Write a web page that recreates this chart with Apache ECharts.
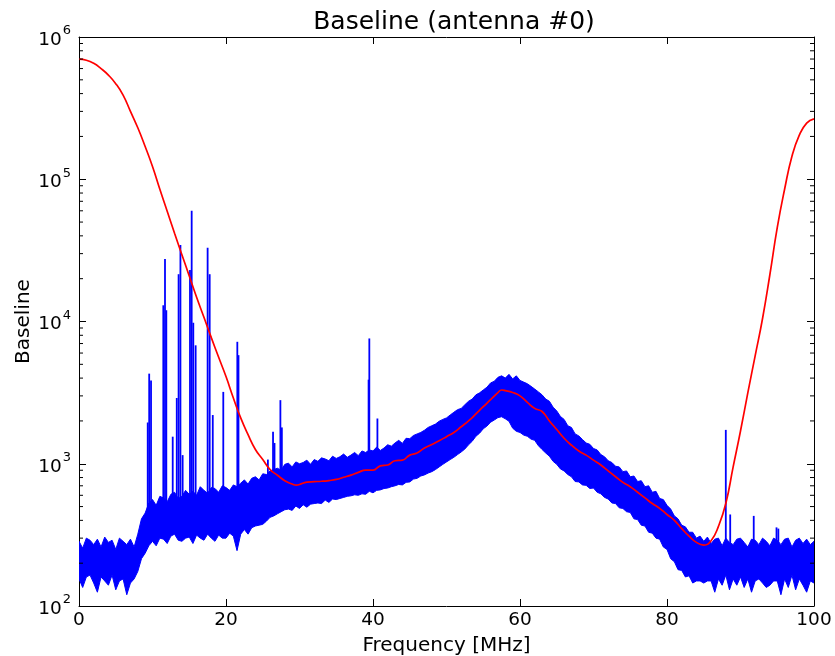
<!DOCTYPE html>
<html>
<head>
<meta charset="utf-8">
<script src="https://cdn.jsdelivr.net/npm/echarts@6/dist/echarts.min.js"></script>
<style>
html,body{margin:0;padding:0;background:#fff;}
#chart{width:835px;height:656px;}
</style>
</head>
<body>
<div id="chart"></div>
<script>
// ---- data ----
const chartTitle = 'Baseline (antenna #0)';
const xName = 'Frequency [MHz]';
const yName = 'Baseline';
const xTicks = [0, 20, 40, 60, 80, 100];
const yTicks = [1e2, 1e3, 1e4, 1e5, 1e6];

// spectrum band, sampled every 0.5 MHz from 0 to 100 MHz
const bandStep = 0.5;
const bandUpper = [
  285, 255, 300, 290, 270, 295, 260, 305, 280, 290, 250, 300, 285, 270, 295, 260,
  320, 410, 450, 530,
  560, 510, 590, 575, 540, 610, 630, 570, 590, 650,
  610, 640, 600, 690, 650, 620, 680, 670, 630, 700,
  680, 650, 710, 690, 730, 770, 720, 790, 810, 770,
  850, 840, 890, 910, 930, 900, 990, 1010, 950, 1030,
  1000, 1020, 1060, 990, 1070, 1040, 1100, 1080, 1050, 1130,
  1090, 1120, 1170, 1110, 1150, 1200, 1140, 1230, 1200, 1250,
  1230, 1310, 1240, 1290, 1360, 1330, 1400, 1460, 1390, 1510,
  1500, 1580, 1620, 1660, 1720, 1800, 1850, 1900, 1990, 2050,
  2100, 2200, 2300, 2400, 2450, 2600, 2750, 2850, 3050, 3150,
  3300, 3450, 3700, 3800, 4050, 4150, 4000, 4250, 3950, 4150,
  3850, 3750, 3650, 3500, 3350, 3200, 3050, 2850, 2750, 2500,
  2350, 2150, 2050, 1850, 1800, 1620, 1570, 1480, 1400, 1370,
  1280, 1250, 1160, 1120, 1050, 1020, 960, 950, 880, 890,
  810, 820, 750, 760, 690, 700, 630, 640, 570, 560,
  510, 480, 430, 410, 370, 360, 330, 330, 300, 310,
  285, 305, 275, 295, 300, 265, 300, 280, 270, 295,
  300, 280, 260, 295, 290, 270, 300, 285, 265, 300,
  290, 270, 295, 300, 260, 290, 300, 275, 295, 270,
  285
];
const bandLower = [
  155, 135, 160, 165, 145, 125, 160, 150, 140, 165, 130, 150, 155, 120, 145, 155,
  175, 215, 235, 265,
  285, 265, 300, 295, 275, 310, 320, 290, 285, 300,
  305, 275, 315, 300, 290, 320, 300, 285, 315, 300,
  300, 325, 310, 245, 320, 345, 320, 355, 365, 370,
  375, 395, 420, 430, 445, 460, 475, 480, 470, 505,
  485, 515, 495, 520, 525, 530, 525, 555, 535, 565,
  560, 570, 580, 590, 595, 605, 600, 615, 610, 640,
  625, 650, 655, 670, 675, 690, 700, 715, 710, 740,
  745, 780, 790, 820, 835, 860, 880, 910, 950, 990,
  1030, 1070, 1110, 1160, 1210, 1270, 1360, 1440, 1560, 1640,
  1760, 1840, 1960, 2030, 2110, 2140, 2070, 1990, 1780, 1690,
  1660, 1590, 1560, 1490, 1460, 1340, 1260, 1190, 1130, 1040,
  990, 920, 890, 840, 810, 750, 745, 710, 705, 670,
  675, 630, 615, 580, 565, 530, 525, 490, 485, 460,
  455, 410, 405, 370, 365, 330, 325, 300, 295, 260,
  250, 215, 205, 180, 178, 160, 163, 145, 150, 150,
  145, 150, 150, 125, 155, 140, 165, 130, 155, 140,
  160, 135, 155, 125, 150, 155, 145, 135, 140, 150,
  150, 120, 155, 135, 165, 130, 155, 140, 125, 150,
  145
];

// narrow RFI spikes: frequency, foot, peak
const spikeFreq = [9.35, 9.55, 9.8, 11.47, 11.7, 11.88, 12.75, 13.3, 13.55, 13.8, 14.1,
  15.1, 15.33, 15.55, 15.87, 17.5, 17.78, 18.2, 19.63, 21.54, 21.7,
  25.7, 26.4, 26.6, 27.4, 27.6, 39.4, 39.5, 40.6, 88.0, 88.6, 91.8, 94.9, 95.15];
const spikeFoot = [300, 300, 320, 350, 350, 350, 380, 380, 380, 380, 380,
  380, 380, 380, 380, 400, 400, 400, 400, 420, 420,
  500, 520, 520, 550, 550, 800, 800, 800, 200, 200, 200, 200, 200];
const spikePeak = [1950, 4300, 3850, 13000, 27500, 12000, 1550, 2900, 21500, 34500, 1150,
  23000, 60000, 9800, 6800, 33000, 21500, 2200, 3200, 7200, 5800,
  1070, 1680, 1400, 2800, 1800, 3900, 7600, 2080, 1730, 440, 430, 357, 350];

// fitted baseline (red)
const baseFreq = [0, 1, 2, 3, 4, 5, 6, 7, 8, 9, 10, 11, 12, 13, 14, 15, 16, 17, 18, 19, 20,
  21, 22, 23, 24, 25, 26, 27, 28, 29, 29.6, 30, 31, 32, 33, 34, 35, 36, 37, 38, 39, 40,
  41, 42, 43, 44, 45, 46, 47, 48, 49, 50, 51, 52, 53, 54, 55, 56, 57, 57.5, 58, 59, 60,
  61, 62, 63, 64, 65, 66, 67, 68, 69, 70, 71, 72, 73, 74, 75, 76, 77, 78, 79, 80,
  81, 82, 83, 84, 85, 86, 87, 88, 89, 90, 91, 92, 93, 94, 95, 96, 97, 98, 99, 100];
const baseVal = [700000, 687000, 653000, 600000, 540000, 470000, 390000, 300000, 230000, 170000, 123000,
  85000, 59600, 41700, 29500, 20900, 14800, 10700, 7700, 5600, 4100,
  2900, 2100, 1600, 1260, 1070, 910, 830, 760, 720, 708, 715, 742, 748, 753, 762, 776, 803, 832, 870, 903, 903,
  966, 980, 1050, 1060, 1150, 1190, 1290, 1365, 1450, 1550, 1660, 1820, 2000, 2240, 2520, 2820, 3160, 3300, 3270, 3170, 3000,
  2700, 2450, 2330, 2000, 1740, 1510, 1350, 1230, 1150, 1060, 980, 890, 810, 740, 690, 630, 575, 525, 486, 440,
  400, 350, 310, 280, 268, 288, 363, 525, 950, 1700, 3160, 5750, 10500, 21400, 45700, 85000, 145000, 204000, 248000, 266000];

// ---- build ----
const minorTicks = [];
for (let d = 2; d < 6; d++) for (let k = 2; k <= 9; k++) minorTicks.push(k * Math.pow(10, d));

const FONT = 'DejaVu Sans';
const chart = echarts.init(document.getElementById('chart'), null, {renderer: 'canvas'});

const axisCommonX = {
  type: 'value', min: xTicks[0], max: xTicks[xTicks.length - 1], interval: 20,
  axisLine: {show: true, onZero: false, lineStyle: {color: '#000', width: 1}},
  axisTick: {show: true, inside: true, length: 7, lineStyle: {color: '#000', width: 1}},
  splitLine: {show: false}
};
const axisCommonY = {
  type: 'log', logBase: 10, min: yTicks[0], max: yTicks[yTicks.length - 1],
  axisLine: {show: true, onZero: false, lineStyle: {color: '#000', width: 1}},
  axisTick: {show: true, inside: true, length: 7, lineStyle: {color: '#000', width: 1}},
  splitLine: {show: false}
};

const option = {
  animation: false,
  backgroundColor: '#fff',
  textStyle: {fontFamily: FONT},
  title: {
    text: chartTitle, left: 449, top: 5, textAlign: 'center',
    textStyle: {fontFamily: FONT, fontSize: 25, fontWeight: 'normal', color: '#000'}
  },
  grid: {left: 79, right: 21, top: 37, bottom: 50, containLabel: false, outerBoundsMode: 'none'},
  xAxis: [
    Object.assign({}, axisCommonX, {
      position: 'bottom',
      name: xName, nameLocation: 'middle', nameGap: 30, nameMoveOverlap: false,
      nameTextStyle: {fontFamily: FONT, fontSize: 20, color: '#000'},
      axisLabel: {show: true, fontFamily: FONT, fontSize: 18.5, color: '#000', margin: 5}
    }),
    Object.assign({}, axisCommonX, {position: 'top', axisLabel: {show: false}})
  ],
  yAxis: [
    Object.assign({}, axisCommonY, {
      position: 'left',
      name: yName, nameLocation: 'middle', nameGap: 45, nameRotate: 90, nameMoveOverlap: false,
      nameTextStyle: {fontFamily: FONT, fontSize: 20, color: '#000'},
      axisLabel: {
        show: true, margin: 8, color: '#000',
        formatter: function (v) {
          const e = Math.round(Math.log10(v));
          return '{b|10}{s|' + e + '}';
        },
        rich: {
          b: {fontFamily: FONT, fontSize: 18.5, color: '#000', padding: [6, 0, 0, 0]},
          s: {fontFamily: FONT, fontSize: 13, color: '#000', verticalAlign: 'top', padding: [0, 0, 0, 1]}
        }
      }
    }),
    Object.assign({}, axisCommonY, {position: 'right', axisLabel: {show: false}})
  ],
  series: [
    {
      type: 'custom', name: 'band', xAxisIndex: 0, yAxisIndex: 0, z: 2,
      data: [[50, 1000]],
      clip: true,
      renderItem: function (params, api) {
        const pts = [];
        for (let i = 0; i < bandUpper.length; i++) pts.push(api.coord([i * bandStep, bandUpper[i]]));
        for (let i = bandLower.length - 1; i >= 0; i--) pts.push(api.coord([i * bandStep, bandLower[i]]));
        return {type: 'polygon', shape: {points: pts}, style: {fill: '#0000ff', stroke: '#0000ff', lineWidth: 1}};
      }
    },
    {
      type: 'custom', name: 'spikes', xAxisIndex: 0, yAxisIndex: 0, z: 3,
      data: spikeFreq.map((f, i) => [f, spikeFoot[i], spikePeak[i]]),
      clip: true,
      renderItem: function (params, api) {
        const a = api.coord([api.value(0), api.value(1)]);
        const b = api.coord([api.value(0), api.value(2)]);
        return {type: 'line', shape: {x1: a[0], y1: a[1], x2: b[0], y2: b[1]}, style: {stroke: '#0000ff', lineWidth: 1.8}};
      },
      encode: {x: 0, y: [1, 2]}
    },
    {
      type: 'line', name: 'baseline', xAxisIndex: 0, yAxisIndex: 0, z: 5,
      data: baseFreq.map((f, i) => [f, baseVal[i]]),
      showSymbol: false, symbol: 'none', smooth: 0.5,
      lineStyle: {color: '#ff0000', width: 1.7}
    },
    {
      type: 'custom', name: 'minorTicks', xAxisIndex: 0, yAxisIndex: 0, z: 6, silent: true,
      data: minorTicks.map(v => [0, v]),
      clip: false,
      renderItem: function (params, api) {
        const l = api.coord([0, api.value(1)]);
        const r = api.coord([100, api.value(1)]);
        return {type: 'group', children: [
          {type: 'line', shape: {x1: l[0], y1: l[1], x2: l[0] + 4, y2: l[1]}, style: {stroke: '#000', lineWidth: 1}},
          {type: 'line', shape: {x1: r[0] - 4, y1: r[1], x2: r[0], y2: r[1]}, style: {stroke: '#000', lineWidth: 1}}
        ]};
      }
    }
  ]
};
chart.setOption(option);
</script>
</body>
</html>
